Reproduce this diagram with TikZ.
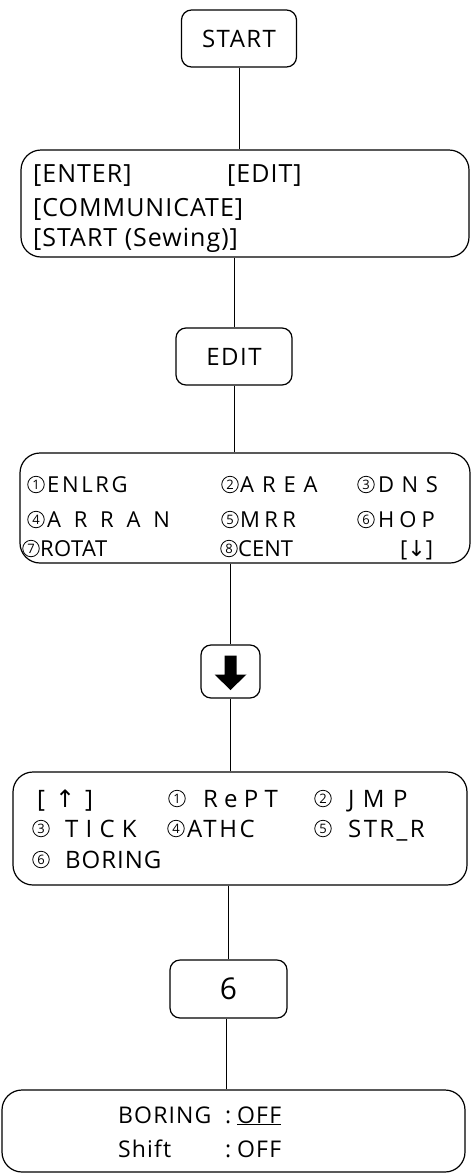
\documentclass[tikz,border=0pt]{standalone}
\usepackage{fontspec}
\setmainfont{Open Sans}
\newfontfamily\symf{DejaVu Sans}
\newcommand\lsp[2]{{\addfontfeature{LetterSpace=#1}#2}}
\begin{document}
\begin{tikzpicture}[x=1pt,y=-1pt,
  smallbox/.style={draw, line width=1.2pt, rounded corners=10pt, inner sep=0pt, font=\fontsize{24}{28}\selectfont},
  bigbox/.style={draw, line width=1.2pt, rounded corners=20pt, inner sep=0pt},
  conn/.style={line width=1pt},
  ta/.style={anchor=base west, inner sep=0pt, font=\fontsize{25}{30}\selectfont\addfontfeature{LetterSpace=4}},
  tb/.style={anchor=base west, inner sep=0pt, font=\fontsize{22}{26}\selectfont},
  tc/.style={anchor=base west, inner sep=0pt, font=\fontsize{24}{28}\selectfont},
  td/.style={anchor=base west, inner sep=0pt, font=\fontsize{23}{27}\selectfont\addfontfeature{LetterSpace=5}},
  circ/.style={circle, draw, line width=0.8pt, minimum size=16.5pt, inner sep=0pt, font=\fontsize{13}{13}\selectfont}]
\useasboundingbox (0,0) rectangle (471,1173);
\fill[white] (0,0) rectangle (471,1173);

% boxes
\node[smallbox, minimum width=115pt, minimum height=57pt] (start) at (239,38.5) {\lsp{6}{START}};
\node[bigbox, minimum width=448pt, minimum height=107pt] (menu) at (245,203.5) {};
\node[smallbox, minimum width=116pt, minimum height=57pt] (edit) at (234,356.5) {\lsp{6}{EDIT}};
\node[bigbox, minimum width=450pt, minimum height=110pt] (ed1) at (245,508) {};
\node[smallbox, minimum width=59pt, minimum height=53pt] (arr) at (230.5,671.5) {};
\fill[shift={(arr.center)}] (-6,-16) -- (6,-16) -- (6,3) -- (16,3) -- (0,18.5) -- (-16,3) -- (-6,3) -- cycle;
\node[bigbox, minimum width=454pt, minimum height=113pt] (ed2) at (240,828.5) {};
\node[smallbox, minimum width=117pt, minimum height=58pt, font=\fontsize{30}{34}\selectfont] (six) at (228.5,989) {6};
\node[bigbox, minimum width=463pt, minimum height=82pt] (bor) at (233.5,1131) {};

% connectors
\draw[conn] (start.south) -- (start.south |- menu.north);
\draw[conn] (menu.south -| edit.north) -- (edit.north);
\draw[conn] (edit.south) -- (edit.south |- ed1.north);
\draw[conn] (ed1.south -| arr.north) -- (arr.north);
\draw[conn] (arr.south) -- (arr.south |- ed2.north);
\draw[conn] (ed2.south -| six.north) -- (six.north);
\draw[conn] ([xshift=-2pt]six.south) -- ([xshift=-2pt]six.south |- bor.north);

% menu texts
\node[ta] (m1) at (33,182) {[ENTER]};
\node[ta] (m2) at (227,182) {[EDIT]};
\node[ta] (m3) at (33,216) {[COMMUNICATE]};
\node[ta] (m4) at (33,246) {[START (Sewing)]};

% edit page 1
\node[circ] (a1) at (36,484.5) {1};
\node[tb] (a1t) at (47,492) {\lsp{12}{ENLRG}};
\node[circ] (a2) at (230,484.5) {2};
\node[tb] (a2t) at (240,492) {\lsp{36}{AREA}};
\node[circ] (a3) at (366,484.5) {3};
\node[tb] (a3t) at (378,492) {\lsp{34}{DNS}};
\node[circ] (a4) at (36,519.5) {4};
\node[tb] (a4t) at (47,527) {\lsp{58}{ARRAN}};
\node[circ] (a5) at (230,519.5) {5};
\node[tb] (a5t) at (240,527) {\lsp{20}{MRR}};
\node[circ] (a6) at (366,519.5) {6};
\node[tb] (a6t) at (378,527) {\lsp{23}{HOP}};
\node[circ] (a7) at (31,548.5) {7};
\node[tb] (a7t) at (40,556) {\lsp{2}{ROTAT}};
\node[circ] (a8) at (229,548.5) {8};
\node[tb] (a8t) at (238,556) {CENT};
\node[tb] (a9) at (400,556) {[{\symf ↓}]};

% edit page 2
\node[tc] (b0) at (37,807) {[\hspace{10pt}{\symf ↑}\hspace{10pt}]};
\node[circ] (b1) at (177,798.5) {1};
\node[tc] (b1t) at (203,807) {\lsp{26}{RePT}};
\node[circ] (b2) at (323,798.5) {2};
\node[tc] (b2t) at (348,807) {\lsp{35}{JMP}};
\node[circ] (b3) at (41,828.5) {3};
\node[tc] (b3t) at (65,837) {\lsp{30}{TICK}};
\node[circ] (b4) at (176,828.5) {4};
\node[tc] (b4t) at (187,837) {\lsp{11}{ATHC}};
\node[circ] (b5) at (323,828.5) {5};
\node[tc] (b5t) at (348,837) {\lsp{10}{STR\_R}};
\node[circ] (b6) at (41,859.5) {6};
\node[tc] (b6t) at (65,868) {\lsp{4}{BORING}};

% boring page
\node[td] (c1) at (118,1123) {BORING};
\node[td] (c2) at (225,1123) {:};
\node[td] (c3) at (237,1123) {\underline{OFF}};
\node[td] (c4) at (118,1157) {Shift};
\node[td] (c5) at (225,1157) {:};
\node[td] (c6) at (237,1157) {OFF};
\end{tikzpicture}
\end{document}
